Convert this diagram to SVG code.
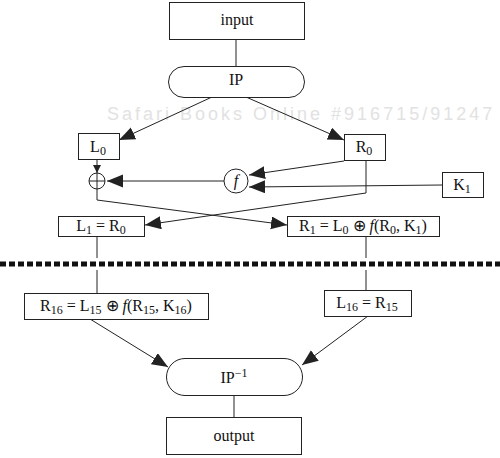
<svg xmlns="http://www.w3.org/2000/svg" width="500" height="458" viewBox="0 0 500 458">
<style>
.box{fill:#fff;stroke:#222;stroke-width:1}
.t{font-family:"Liberation Serif","Times New Roman",serif;font-size:16px;fill:#111;text-anchor:middle}
.s{font-size:12px}
.c{fill:none;stroke:#222;stroke-width:1}
.wm{font-family:"Liberation Sans",Arial,sans-serif;font-size:18px;fill:#e2e2e2;letter-spacing:3px}
</style>
<defs>
<marker id="ah" markerUnits="userSpaceOnUse" markerWidth="18" markerHeight="14" refX="16" refY="6.5" orient="auto">
<path d="M0,0 L16,6.5 L0,13 Z" fill="#222"/>
</marker>
<marker id="ahs" markerUnits="userSpaceOnUse" markerWidth="10" markerHeight="8" refX="8" refY="4" orient="auto">
<path d="M0,0 L8,4 L0,8 Z" fill="#222"/>
</marker>
</defs>
<text class="wm" x="107" y="120">Safari Books Online #916715/91247</text>
<g id="connectors">
<line class="c" x1="236" y1="39" x2="236" y2="66"/>
<line class="c" x1="212" y1="97" x2="119" y2="140" marker-end="url(#ah)"/>
<line class="c" x1="246" y1="97" x2="344" y2="140" marker-end="url(#ah)"/>
<line class="c" x1="97" y1="160" x2="97" y2="173" marker-end="url(#ahs)"/>
<line class="c" x1="224" y1="181" x2="107" y2="181" marker-end="url(#ah)"/>
<line class="c" x1="344" y1="161" x2="249" y2="175" marker-end="url(#ah)"/>
<line class="c" x1="442" y1="185" x2="249" y2="187" marker-end="url(#ah)"/>
<polyline class="c" points="366,160 366,193 145,225" marker-end="url(#ah)"/>
<polyline class="c" points="97,189 97,200 287,225" marker-end="url(#ah)"/>
<line class="c" x1="97" y1="237" x2="97" y2="258"/>
<line class="c" x1="97" y1="270" x2="97" y2="293"/>
<line class="c" x1="366" y1="237" x2="366" y2="258"/>
<line class="c" x1="366" y1="270" x2="366" y2="290"/>
<line x1="0" y1="264" x2="500" y2="264" stroke="#111" stroke-width="5" stroke-dasharray="6 3"/>
<line class="c" x1="90" y1="319" x2="168" y2="367" marker-end="url(#ah)"/>
<line class="c" x1="368" y1="316" x2="302" y2="365" marker-end="url(#ah)"/>
<line class="c" x1="234" y1="396" x2="234" y2="417"/>
</g>
<g id="input"><rect class="box" x="169.5" y="2.5" width="135" height="37"/><text class="t" x="237" y="25">input</text></g>
<g id="ip"><rect class="box" x="168.5" y="66.5" width="136" height="31" rx="15.5"/><text class="t" x="236" y="85">IP</text></g>
<g id="l0"><rect class="box" x="78.5" y="133.5" width="41" height="26"/><text class="t" x="98" y="152">L<tspan class="s" dy="3">0</tspan></text></g>
<g id="r0"><rect class="box" x="344.5" y="134.5" width="41" height="26"/><text class="t" x="364" y="152">R<tspan class="s" dy="3">0</tspan></text></g>
<g id="xor"><circle cx="97" cy="181" r="8" fill="#fff" stroke="#222"/><path d="M89,181 H105 M97,173 V189" stroke="#222" fill="none"/></g>
<g id="f"><circle cx="236" cy="181" r="12" fill="#fff" stroke="#222"/><text class="t" x="236" y="186" font-style="italic">f</text></g>
<g id="k1"><rect class="box" x="442.5" y="172.5" width="41" height="25"/><text class="t" x="462" y="190">K<tspan class="s" dy="3">1</tspan></text></g>
<g id="l1"><rect class="box" x="58.5" y="216.5" width="86" height="20"/><text class="t" x="101" y="231">L<tspan class="s" dy="3">1</tspan><tspan dy="-3"> = R</tspan><tspan class="s" dy="3">0</tspan></text></g>
<g id="r1"><rect class="box" x="287.5" y="216.5" width="152" height="20"/><text class="t" x="363" y="231">R<tspan class="s" dy="3">1</tspan><tspan dy="-3"> = L</tspan><tspan class="s" dy="3">0</tspan><tspan dy="-3"> ⊕ </tspan><tspan font-style="italic">f</tspan>(R<tspan class="s" dy="3">0</tspan><tspan dy="-3">, K</tspan><tspan class="s" dy="3">1</tspan><tspan dy="-3">)</tspan></text></g>
<g id="r16"><rect class="box" x="24.5" y="293.5" width="184" height="26"/><text class="t" x="116" y="311">R<tspan class="s" dy="3">16</tspan><tspan dy="-3"> = L</tspan><tspan class="s" dy="3">15</tspan><tspan dy="-3"> ⊕ </tspan><tspan font-style="italic">f</tspan>(R<tspan class="s" dy="3">15</tspan><tspan dy="-3">, K</tspan><tspan class="s" dy="3">16</tspan><tspan dy="-3">)</tspan></text></g>
<g id="l16"><rect class="box" x="324.5" y="290.5" width="87" height="26"/><text class="t" x="367" y="308">L<tspan class="s" dy="3">16</tspan><tspan dy="-3"> = R</tspan><tspan class="s" dy="3">15</tspan></text></g>
<g id="ipinv"><rect class="box" x="166.5" y="358.5" width="136" height="37" rx="18.5"/><text class="t" x="234" y="383">IP<tspan class="s" dy="-6">−1</tspan></text></g>
<g id="output"><rect class="box" x="166.5" y="417.5" width="135" height="37"/><text class="t" x="234" y="441">output</text></g>
</svg>
